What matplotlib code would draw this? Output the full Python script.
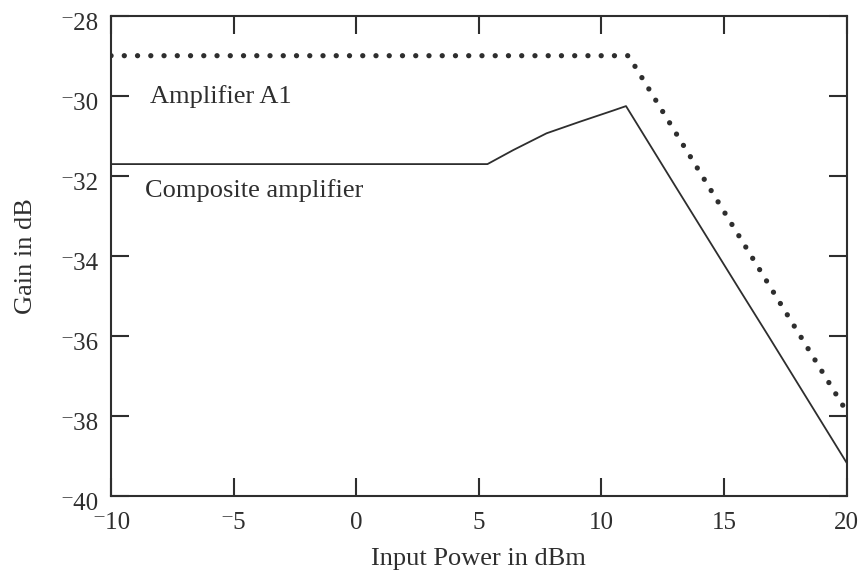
import matplotlib
matplotlib.use("Agg")
import matplotlib.pyplot as plt
import matplotlib.transforms as mtransforms

# Data
amp_x = [-10, 11.1, 20]
amp_y = [-29.0, -29.0, -37.9]

comp_x = [-10, 5.35, 6.4, 7.76, 9.12, 10.48, 11.0, 13.0, 15.64, 16.8, 20]
comp_y = [-31.71, -31.71, -31.36, -30.94, -30.65, -30.37, -30.26, -32.25, -34.86, -36.0, -39.18]

xticks = [-10, -5, 0, 5, 10, 15, 20]
yticks = [-40, -38, -36, -34, -32, -30, -28]

plt.rcParams['font.family'] = ['Liberation Serif', 'DejaVu Serif']
ink = '#2e2e2e'

fig = plt.figure(figsize=(8.64, 5.71), dpi=100)
ax = fig.add_axes([0.1285, 0.1319, 0.98 - 0.1285, 0.9725 - 0.1319])

ax.plot(amp_x, amp_y, color=ink, lw=3.8, linestyle=(0, (0.01, 2.5)),
        dash_capstyle='round', solid_capstyle='round')
ax.plot(comp_x, comp_y, color=ink, lw=1.3)

ax.set_xlim(-10, 20)
ax.set_ylim(-40, -28)

def fmt(v):
    v = int(v)
    return ('\u207b' + str(-v)) if v < 0 else str(v)

ax.set_xticks(xticks)
ax.set_xticklabels([fmt(v) for v in xticks])
ax.set_yticks(yticks)
ax.set_yticklabels([fmt(v) for v in yticks])

ax.tick_params(direction='in', length=13, width=1.5, colors=ink,
               labelsize=18, top=True, right=True, pad=9)
ax.tick_params(axis='x', pad=12)
for s in ax.spines.values():
    s.set_linewidth(1.5)
    s.set_color(ink)

offset = mtransforms.ScaledTranslation(0, -4 / 72, fig.dpi_scale_trans)
for lab in ax.get_yticklabels():
    lab.set_transform(lab.get_transform() + offset)

ax.set_xlabel('Input Power in dBm', fontsize=19, color=ink, labelpad=10)
ax.set_ylabel('Gain in dB', fontsize=19, color=ink, labelpad=17)

ax.text(-8.4, -30.03, 'Amplifier A1', fontsize=19, color=ink, va='center', ha='left')
ax.text(-8.6, -32.36, 'Composite amplifier', fontsize=19, color=ink, va='center', ha='left')

fig.savefig('out.png', dpi=100)
